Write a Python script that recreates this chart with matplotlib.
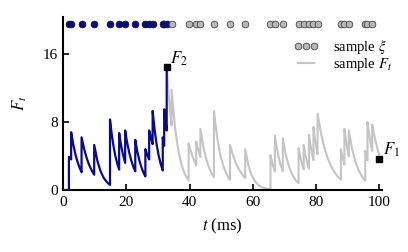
import matplotlib
matplotlib.use("Agg")
import matplotlib.pyplot as plt

plt.rcParams['font.family'] = ['Liberation Serif', 'DejaVu Serif']
plt.rcParams['mathtext.fontset'] = 'stix'

# observed events (blue) and sampled events (gray), in ms
obs_events = [1.8, 2.5, 5.8, 9.8, 14.8, 17.7, 19.6, 22.8, 26.0, 27.2, 28.3, 31.5, 31.95, 32.75]
smp_events = [34.3, 39.7, 42.1, 43.4, 47.7, 52.8, 57.6, 65.6, 67.0, 69.5, 74.5, 76.1,
              77.8, 79.2, 80.5, 87.9, 89.0, 90.4, 95.6, 96.3, 97.8]

obs_trace = [
    (0, 0), (1.8, 0), (1.8, 3.9), (2.15, 3.75), (2.5, 3.6), (2.5, 6.8),
    (3.16, 5.38), (3.82, 4.25), (4.48, 3.36), (5.14, 2.66), (5.8, 2.1), (5.8, 6.2),
    (6.6, 4.84), (7.4, 3.78), (8.2, 2.95), (9.0, 2.31), (9.8, 1.8), (9.8, 5.3),
    (10.8, 3.43), (11.8, 2.22), (12.8, 1.43), (13.8, 0.93), (14.8, 0.6), (14.8, 8.3),
    (15.38, 6.47), (15.96, 5.05), (16.54, 3.94), (17.12, 3.08), (17.7, 2.4), (17.7, 6.7),
    (18.08, 5.78), (18.46, 4.98), (18.84, 4.30), (19.22, 3.71), (19.6, 3.2), (19.6, 7.0),
    (20.24, 5.55), (20.88, 4.41), (21.52, 3.49), (22.16, 2.77), (22.8, 2.2), (22.8, 5.9),
    (23.44, 4.54), (24.08, 3.50), (24.72, 2.70), (25.36, 2.08), (26.0, 1.6), (26.0, 4.8),
    (26.6, 4.15), (27.2, 3.6), (27.2, 7.0), (27.75, 6.15), (28.3, 5.4), (28.3, 9.3),
    (28.94, 7.03), (29.58, 5.32), (30.22, 4.03), (30.86, 3.04), (31.5, 2.3), (31.5, 6.2),
    (31.95, 5.2), (31.95, 9.5), (32.35, 8.15), (32.75, 7.0), (32.75, 14.5),
]

smp_trace = [
    (32.75, 14.5), (33.27, 11.7), (33.78, 9.42), (34.3, 7.6), (34.3, 11.8),
    (35.38, 7.34), (36.46, 4.57), (37.54, 2.84), (38.62, 1.77), (39.7, 1.1), (39.7, 5.5),
    (40.18, 4.84), (40.66, 4.26), (41.14, 3.75), (41.62, 3.30), (42.1, 2.9), (42.1, 5.7),
    (42.53, 5.02), (42.97, 4.42), (43.4, 3.9), (43.4, 7.2),
    (44.26, 5.26), (45.12, 3.84), (45.98, 2.81), (46.84, 2.05), (47.7, 1.5), (47.7, 9.3),
    (48.72, 6.17), (49.74, 4.10), (50.76, 2.72), (51.78, 1.81), (52.8, 1.2), (52.8, 5.3),
    (53.76, 4.06), (54.72, 3.11), (55.68, 2.39), (56.64, 1.83), (57.6, 1.4), (57.6, 4.8),
    (58.6, 2.91), (59.6, 1.77), (60.6, 1.07), (61.6, 0.65), (62.6, 0.39), (63.6, 0.24),
    (64.6, 0.14), (65.6, 0.09), (65.6, 4.1), (66.07, 3.33), (66.53, 2.71), (67.0, 2.2), (67.0, 6.4),
    (67.5, 5.17), (68.0, 4.17), (68.5, 3.37), (69.0, 2.72), (69.5, 2.2), (69.5, 6.1),
    (70.5, 4.06), (71.5, 2.71), (72.5, 1.80), (73.5, 1.20), (74.5, 0.8), (74.5, 4.9),
    (75.03, 3.89), (75.57, 3.09), (76.1, 2.45), (76.1, 5.3),
    (76.67, 4.13), (77.23, 3.21), (77.8, 2.5), (77.8, 6.5),
    (78.27, 5.29), (78.73, 4.30), (79.2, 3.5), (79.2, 7.4),
    (79.63, 6.13), (80.07, 5.08), (80.5, 4.2), (80.5, 9.0),
    (81.56, 6.75), (82.61, 5.06), (83.67, 3.80), (84.73, 2.84), (85.79, 2.13), (86.84, 1.60),
    (87.9, 1.2), (87.9, 4.8), (88.45, 3.79), (89.0, 3.0), (89.0, 7.2),
    (89.47, 5.92), (89.93, 4.87), (90.4, 4.0), (90.4, 7.0),
    (91.44, 4.83), (92.48, 3.34), (93.52, 2.31), (94.56, 1.59), (95.6, 1.1), (95.6, 4.6),
    (95.95, 4.0), (96.3, 3.5), (96.3, 8.0), (96.8, 6.66), (97.3, 5.54), (97.8, 4.6), (97.8, 7.7),
    (98.35, 6.61), (98.9, 5.68), (99.45, 4.88), (100.0, 4.2),
]

F2 = (32.75, 14.5)
F1 = (99.9, 3.6)
event_row = 19.5
xticks = [0, 20, 40, 60, 80, 100]
yticks = [0, 8, 16]

blue = '#0a0a8c'
gray = '#c4c4c4'
dot_gray = '#b8b8b8'

obs_t, obs_F = zip(*obs_trace)
smp_t, smp_F = zip(*smp_trace)

fig = plt.figure(figsize=(4.08, 2.52), dpi=100)
ax = fig.add_axes([0.155, 0.246, 0.782, 0.688])

ax.plot(smp_t, smp_F, color=gray, lw=1.5, zorder=2, solid_joinstyle='round')
ax.plot(obs_t, obs_F, color=blue, lw=1.6, zorder=3, solid_joinstyle='round')

ax.plot(obs_events, [event_row] * len(obs_events), 'o', ms=4.8, mfc=blue, mec='#10103a',
        mew=0.6, clip_on=False, zorder=4)
ax.plot(smp_events, [event_row] * len(smp_events), 'o', ms=4.8, mfc=dot_gray, mec='#444444',
        mew=0.6, clip_on=False, zorder=4)

ax.plot([F2[0]], [F2[1]], 's', color='black', ms=4.5, zorder=5)
ax.plot([F1[0]], [F1[1]], 's', color='black', ms=4.5, zorder=5, clip_on=False)
ax.text(F2[0] + 1.1, F2[1] - 0.2, r'$F_2$', fontsize=12, va='bottom', ha='left')
ax.text(F1[0] + 1.4, F1[1] + 0.1, r'$F_1$', fontsize=12, va='bottom', ha='left')

# legend proxies
h1, = ax.plot([], [], 'o', ms=4.8, mfc=dot_gray, mec='#444444', mew=0.6)
h2, = ax.plot([], [], '-', color=gray, lw=1.5)
leg = ax.legend([h1, h2], [r'sample $\xi$', r'sample $F_t$'], loc='upper right',
                bbox_to_anchor=(1.03, 0.875), frameon=False, numpoints=3, fontsize=10.5,
                handlelength=1.7, handletextpad=1.0, labelspacing=0.0, borderpad=0.0,
                borderaxespad=0.0)

ax.set_xlim(0, 101)
ax.set_ylim(0, 20.4)
ax.set_xticks(xticks)
ax.set_yticks(yticks)
ax.tick_params(direction='in', length=4.5, width=1.2, labelsize=11, pad=4)
for s in ['top', 'right']:
    ax.spines[s].set_visible(False)
for s in ['left', 'bottom']:
    ax.spines[s].set_linewidth(1.5)

ax.set_xlabel(r'$t$ (ms)', fontsize=12, labelpad=6)
ax.set_ylabel(r'$F_t$', fontsize=12, labelpad=10)

fig.savefig('out.png', dpi=100)
